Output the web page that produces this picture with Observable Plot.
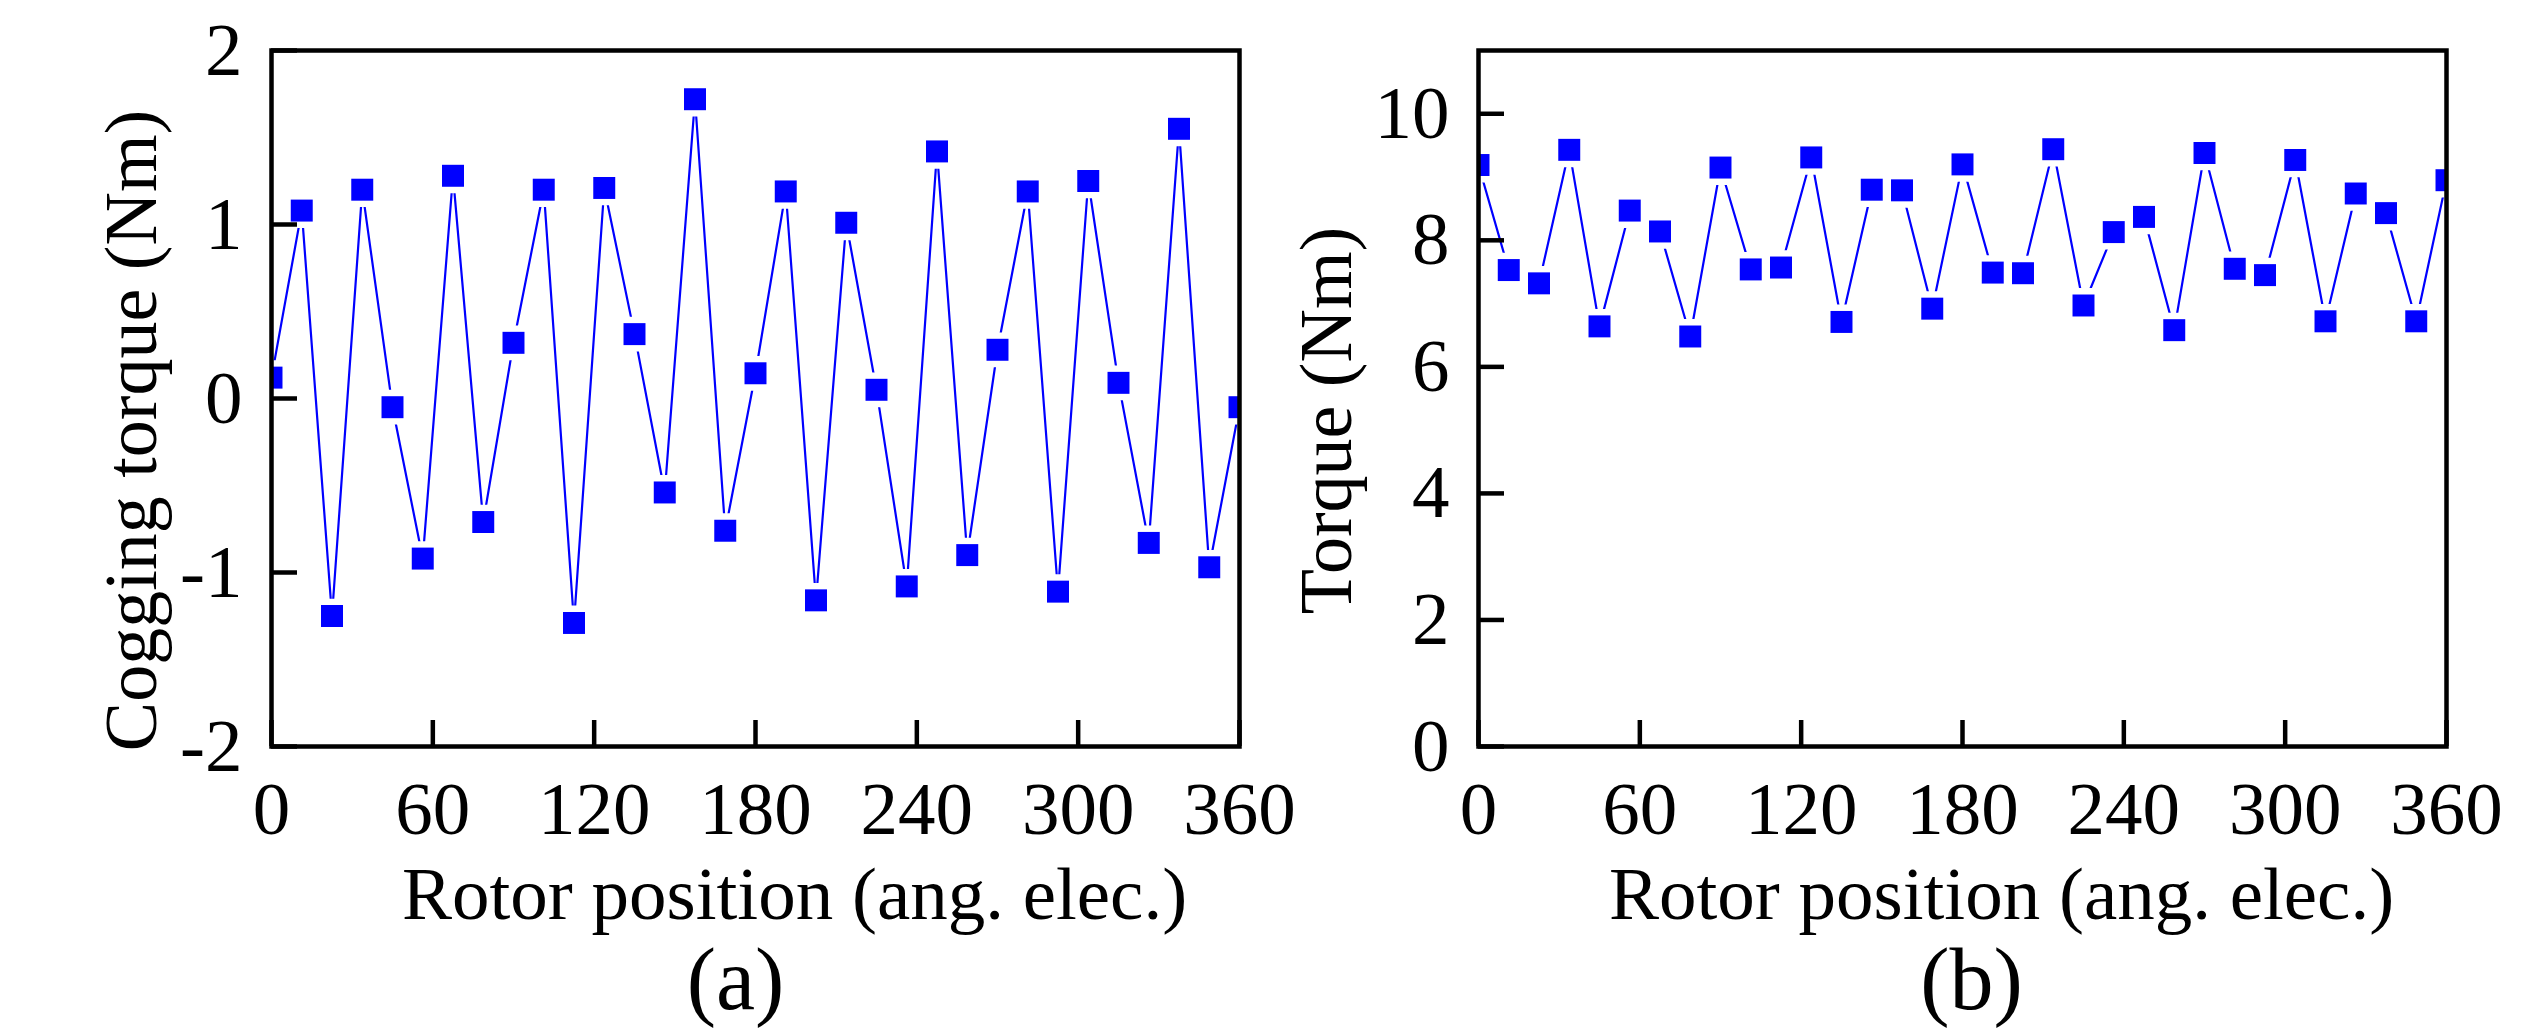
<!DOCTYPE html>
<html>
<head>
<meta charset="utf-8">
<script src="https://cdn.jsdelivr.net/npm/d3@7"></script>
<script src="https://cdn.jsdelivr.net/npm/@observablehq/plot@0.6"></script>
<style>
  html, body { margin: 0; padding: 0; background: #ffffff; }
  #wrap { display: flex; width: 2529px; height: 1032px; overflow: hidden; background: #ffffff; }
  #wrap svg { display: block; flex: none; }
</style>
</head>
<body>
<div id="wrap"></div>
<script>
// Rotor positions (electrical degrees)
const positions = [0, 11.25, 22.5, 33.75, 45, 56.25, 67.5, 78.75, 90, 101.25, 112.5,
  123.75, 135, 146.25, 157.5, 168.75, 180, 191.25, 202.5, 213.75, 225, 236.25,
  247.5, 258.75, 270, 281.25, 292.5, 303.75, 315, 326.25, 337.5, 348.75, 360];

// (a) Cogging torque (Nm)
const coggingTorque = [0.12, 1.08, -1.25, 1.20, -0.05, -0.92, 1.28, -0.71, 0.32, 1.20, -1.29,
  1.21, 0.37, -0.54, 1.72, -0.76, 0.145, 1.19, -1.16, 1.01, 0.05, -1.08,
  1.42, -0.90, 0.28, 1.19, -1.11, 1.25, 0.09, -0.83, 1.55, -0.97, -0.05];

// (b) Torque (Nm)
const torque = [9.19, 7.53, 7.32, 9.43, 6.64, 8.47, 8.14, 6.48, 9.15, 7.54, 7.57,
  9.31, 6.71, 8.80, 8.79, 6.92, 9.20, 7.49, 7.48, 9.44, 6.97, 8.13,
  8.37, 6.58, 9.38, 7.55, 7.45, 9.27, 6.72, 8.74, 8.43, 6.72, 8.95];

const xTicks = [0, 60, 120, 180, 240, 300, 360];
const coggingTicks = [-2, -1, 0, 1, 2];
const torqueTicks = [0, 2, 4, 6, 8, 10];
const xTitle = "Rotor position (ang. elec.)";
const coggingTitle = "Cogging torque (Nm)";
const torqueTitle = "Torque (Nm)";
const tagA = "(a)";
const tagB = "(b)";

const BLUE = "#0000ff";
const FONT = "'Liberation Serif', 'Times New Roman', Times, serif";

function panel(o) {
  const data = positions.map((p, i) => ({pos: p, val: o.values[i]}));
  return Plot.plot({
    width: o.width,
    height: 1032,
    marginLeft: o.marginLeft,
    marginRight: o.marginRight,
    marginTop: 50,
    marginBottom: 286,
    x: {domain: [0, 360], label: null},
    y: {domain: o.yDomain, label: null},
    style: {fontFamily: FONT, fontSize: "75px", color: "black", background: "transparent", overflow: "visible"},
    marks: [
      Plot.line(data, {x: "pos", y: "val", stroke: BLUE, strokeWidth: 2.2, clip: true}),
      Plot.dot(data, {x: "pos", y: "val", symbol: "square", r: 19.6, fill: "white", stroke: "none", clip: true}),
      Plot.dot(data, {x: "pos", y: "val", symbol: "square", r: 12.4, fill: BLUE, stroke: "none", clip: true}),
      Plot.axisX(xTicks, {anchor: "bottom", tickSize: -26, tickPadding: 60, strokeWidth: 4.5,
        tickFormat: d => String(d), fontSize: 75, label: null}),
      Plot.axisY(o.yTicks, {anchor: "left", tickSize: -26, tickPadding: 55, strokeWidth: 4.5,
        tickFormat: d => String(d), fontSize: 75, label: null}),
      Plot.frame({stroke: "black", strokeWidth: 4.5}),
      Plot.text([xTitle], {text: d => d, frameAnchor: "bottom", textAnchor: "middle", lineAnchor: "bottom",
        dx: 39, dy: 172, fontSize: 75, fill: "black"}),
      Plot.text([o.tag], {text: d => d, frameAnchor: "bottom", textAnchor: "middle", lineAnchor: "bottom",
        dx: o.tagDx, dy: 262, fontSize: 88, fill: "black"}),
      Plot.text([o.yTitle], {text: d => d, frameAnchor: "left", textAnchor: "middle", lineAnchor: "bottom",
        rotate: -90, dx: o.yTitleDx, dy: o.yTitleDy, fontSize: 74, fill: "black"})
    ]
  });
}

const wrap = document.getElementById("wrap");
wrap.appendChild(panel({
  values: coggingTorque, yDomain: [-2, 2], yTicks: coggingTicks, yTitle: coggingTitle,
  tag: tagA, width: 1264, marginLeft: 271, marginRight: 25,
  yTitleDx: -116, yTitleDy: 32, tagDx: -20
}));
wrap.appendChild(panel({
  values: torque, yDomain: [0, 11], yTicks: torqueTicks, yTitle: torqueTitle,
  tag: tagB, width: 1265, marginLeft: 214, marginRight: 83,
  yTitleDx: -128, yTitleDy: 22, tagDx: 9
}));
</script>
</body>
</html>
